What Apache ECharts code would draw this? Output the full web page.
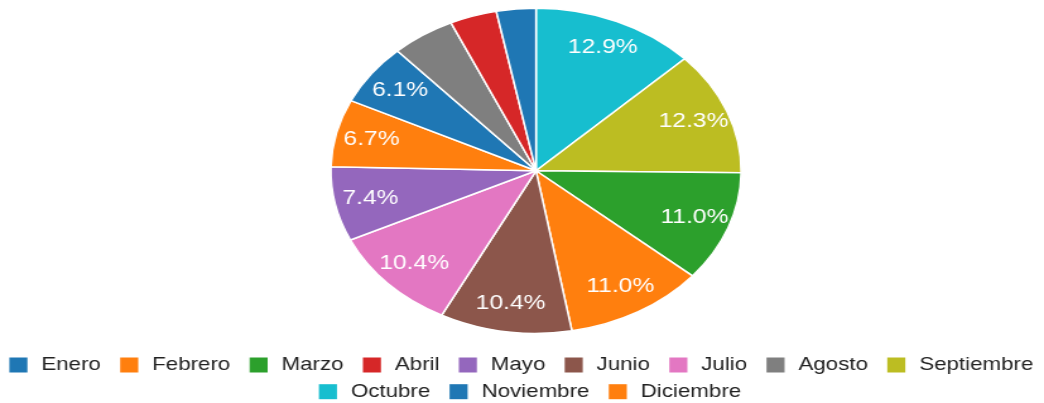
<!DOCTYPE html>
<html>
<head>
<meta charset="utf-8">
<script src="https://cdn.jsdelivr.net/npm/echarts@6/dist/echarts.min.js"></script>
<style>
  html, body { margin: 0; padding: 0; background: #fff; overflow: hidden; }
  #chart { width: 827px; height: 403px; transform: scaleX(1.2624); transform-origin: 0 0; }
</style>
</head>
<body>
<div id="chart"></div>
<script>
const months = ['Enero','Febrero','Marzo','Abril','Mayo','Junio','Julio','Agosto','Septiembre','Octubre','Noviembre','Diciembre'];
const shares = [6.1, 6.7, 11.0, 3.7, 7.4, 10.4, 10.4, 5.0, 12.3, 12.9, 3.1, 11.0];
const colors = ['#1f77b4','#ff7f0e','#2ca02c','#d62728','#9467bd','#8c564b','#e377c2','#7f7f7f','#bcbd22','#17becf','#1f77b4','#ff7f0e'];
const legendRow1 = months.slice(0, 9);
const legendRow2 = months.slice(9);

const items = months.map((m, i) => ({ name: m, value: shares[i], itemStyle: { color: colors[i] } }));
const sorted = items.slice().sort((a, b) => b.value - a.value);

const font = "'Liberation Sans', Arial, sans-serif";
const chart = echarts.init(document.getElementById('chart'));
const legendBase = {
  orient: 'horizontal',
  itemWidth: 14.3,
  itemHeight: 15,
  itemGap: 15.3,
  icon: 'rect',
  padding: 0,
  itemStyle: { borderWidth: 0 },
  textStyle: { fontFamily: font, fontSize: 17.7, color: '#222', padding: [0, 0, 0, 6], lineHeight: 18 }
};
chart.setOption({
  animation: false,
  legend: [
    Object.assign({}, legendBase, { data: legendRow1, left: 7.4, top: 356 }),
    Object.assign({}, legendBase, { data: legendRow2, left: 252.6, top: 382.7 })
  ],
  series: [
    {
      type: 'pie',
      center: [424.6, 170.8],
      radius: [0, 162.5],
      startAngle: 90,
      clockwise: true,
      data: sorted,
      label: { show: false },
      labelLine: { show: false },
      itemStyle: { borderColor: '#fff', borderWidth: 1.5 },
      emphasis: { disabled: true }
    },
    {
      type: 'pie',
      center: [424.6, 170.8],
      radius: [99.5, 162.5],
      startAngle: 90,
      clockwise: true,
      silent: true,
      percentPrecision: 1,
      data: sorted.map(d => ({ name: d.name, value: d.value, itemStyle: { color: 'rgba(0,0,0,0)' } })),
      label: {
        show: true,
        position: 'inside',
        color: '#fff',
        fontFamily: font,
        fontSize: 19.5,
        formatter: p => p.value >= 5.5 ? p.value.toFixed(1) + '%' : ''
      },
      labelLine: { show: false },
      emphasis: { disabled: true }
    }
  ]
});
</script>
</body>
</html>
